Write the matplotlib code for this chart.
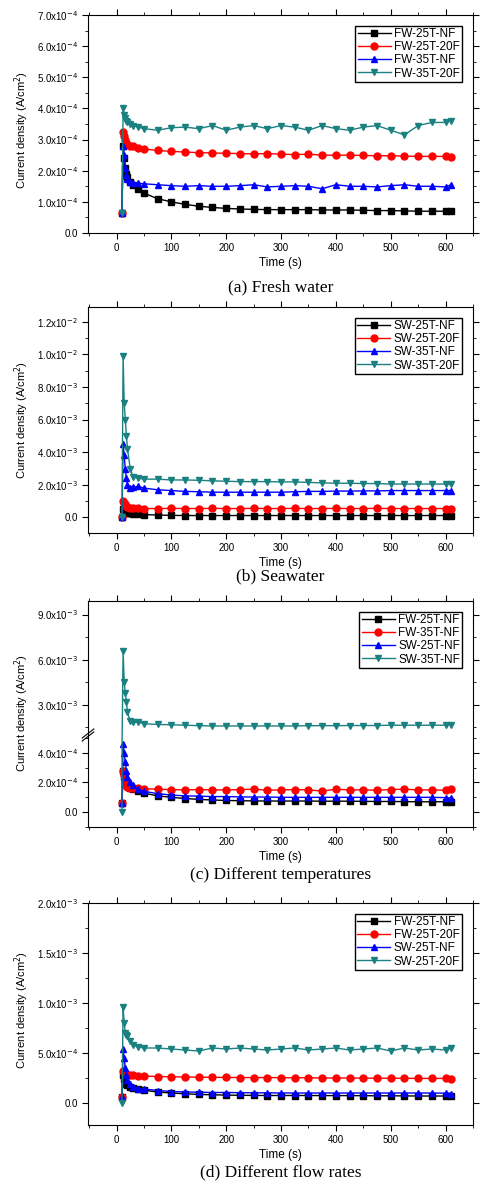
import matplotlib
matplotlib.use("Agg")
import matplotlib.pyplot as plt
import numpy as np
from matplotlib.ticker import FixedLocator, MultipleLocator

t = [10, 12, 14, 16, 18, 20, 25, 30, 40,
     50, 75, 100, 125, 150, 175, 200, 225, 250, 275, 300, 325, 350, 375, 400,
     425, 450, 475, 500, 525, 550, 575, 600, 610]

# values in units of 1e-4 A/cm2
fw25nf = [0.65, 2.8, 2.4, 2.1, 1.9, 1.8, 1.65, 1.55, 1.4,
          1.28, 1.1, 1.0, 0.92, 0.86, 0.82, 0.79, 0.77, 0.76, 0.75, 0.75, 0.75, 0.75, 0.74, 0.74,
          0.74, 0.73, 0.72, 0.72, 0.71, 0.7, 0.7, 0.7, 0.7]
fw25_20f = [0.65, 3.25, 3.1, 3.0, 2.9, 2.85, 2.8, 2.78, 2.72,
            2.7, 2.65, 2.62, 2.6, 2.58, 2.57, 2.56, 2.55, 2.54, 2.55, 2.53, 2.52, 2.53, 2.5, 2.5,
            2.5, 2.49, 2.48, 2.48, 2.47, 2.46, 2.46, 2.46, 2.45]
fw35nf = [0.65, 2.8, 2.5, 2.1, 1.85, 1.72, 1.65, 1.62, 1.6,
          1.58, 1.55, 1.52, 1.5, 1.52, 1.5, 1.5, 1.52, 1.55, 1.48, 1.5, 1.52, 1.5, 1.42, 1.55,
          1.5, 1.5, 1.48, 1.52, 1.55, 1.5, 1.5, 1.48, 1.55]
fw35_20f = [0.65, 4.0, 3.8, 3.7, 3.6, 3.55, 3.5, 3.45, 3.4,
            3.35, 3.3, 3.38, 3.4, 3.35, 3.45, 3.3, 3.4, 3.45, 3.35, 3.45, 3.4, 3.3, 3.45, 3.35,
            3.3, 3.4, 3.45, 3.3, 3.15, 3.45, 3.55, 3.55, 3.6]
# values in units of 1e-3 A/cm2
sw25nf_b = [0.0, 0.5, 0.4, 0.35, 0.3, 0.28, 0.25, 0.22, 0.2,
            0.18, 0.15, 0.13, 0.12, 0.12, 0.12, 0.12, 0.12, 0.12, 0.12, 0.12, 0.12, 0.12, 0.12, 0.12,
            0.12, 0.12, 0.12, 0.12, 0.12, 0.12, 0.12, 0.12, 0.12]
sw25_20f_b = [0.0, 1.0, 0.9, 0.8, 0.7, 0.65, 0.6, 0.58, 0.56,
              0.55, 0.55, 0.56, 0.55, 0.55, 0.56, 0.55, 0.55, 0.56, 0.55, 0.55, 0.56, 0.55, 0.55, 0.56,
              0.55, 0.55, 0.56, 0.55, 0.55, 0.55, 0.55, 0.55, 0.55]
sw35nf_b = [0.0, 4.5, 3.8, 3.0, 2.4, 2.0, 1.8, 1.85, 1.9,
            1.8, 1.7, 1.65, 1.6, 1.58, 1.55, 1.55, 1.55, 1.55, 1.55, 1.55, 1.58, 1.6, 1.6, 1.62,
            1.62, 1.63, 1.63, 1.65, 1.65, 1.65, 1.65, 1.65, 1.65]
sw35_20f_b = [0.0, 9.9, 7.0, 6.0, 5.0, 4.2, 3.0, 2.5, 2.4,
              2.35, 2.35, 2.3, 2.3, 2.28, 2.25, 2.22, 2.2, 2.2, 2.2, 2.18, 2.18, 2.15, 2.12, 2.1,
              2.1, 2.08, 2.08, 2.05, 2.05, 2.05, 2.05, 2.05, 2.05]
# panel c
sw25nf_c = [0.65, 4.6, 4.0, 3.4, 2.8, 2.4, 2.0, 1.8, 1.55,
            1.4, 1.25, 1.15, 1.1, 1.08, 1.05, 1.05, 1.03, 1.02, 1.02, 1.0, 1.0, 1.0, 1.0, 1.0,
            1.0, 1.0, 1.0, 1.0, 1.0, 1.0, 1.0, 0.98, 0.95]  # 1e-4
sw35nf_c = [0.0, 6.6, 4.5, 3.8, 3.2, 2.5, 1.9, 1.85, 1.85,
            1.75, 1.7, 1.68, 1.65, 1.62, 1.6, 1.6, 1.6, 1.6, 1.6, 1.6, 1.6, 1.62, 1.62, 1.62,
            1.63, 1.63, 1.63, 1.65, 1.65, 1.65, 1.65, 1.65, 1.68]  # 1e-3
# panel d (1e-4)
sw25nf_d = [0.65, 5.4, 4.5, 3.5, 2.8, 2.3, 1.9, 1.6, 1.45,
            1.4, 1.25, 1.15, 1.1, 1.08, 1.05, 1.05, 1.03, 1.02, 1.02, 1.0, 1.0, 1.0, 1.0, 1.0,
            1.0, 1.0, 1.0, 1.0, 1.0, 1.0, 1.0, 0.98, 0.95]
sw25_20f_d = [0.0, 9.6, 8.0, 7.0, 6.8, 6.7, 6.2, 5.8, 5.6,
              5.5, 5.5, 5.4, 5.3, 5.2, 5.5, 5.4, 5.5, 5.4, 5.3, 5.4, 5.5, 5.3, 5.4, 5.5,
              5.3, 5.4, 5.5, 5.2, 5.5, 5.3, 5.4, 5.3, 5.5]

labels_a = ["FW-25T-NF", "FW-25T-20F", "FW-35T-NF", "FW-35T-20F"]
labels_b = ["SW-25T-NF", "SW-25T-20F", "SW-35T-NF", "SW-35T-20F"]
labels_c = ["FW-25T-NF", "FW-35T-NF", "SW-25T-NF", "SW-35T-NF"]
labels_d = ["FW-25T-NF", "FW-25T-20F", "SW-25T-NF", "SW-25T-20F"]
captions = ["(a) Fresh water", "(b) Seawater", "(c) Different temperatures", "(d) Different flow rates"]

colors = ["black", "#ff0000", "#0000ff", "#1a8080"]
markers = ["s", "o", "^", "v"]

W, H = 484, 1188
fig = plt.figure(figsize=(W / 100, H / 100), dpi=100)
plt.rcParams['font.family'] = ['Liberation Sans', 'DejaVu Sans']

L, R = 88, 473


def ax_at(top, bottom):
    return fig.add_axes([L / W, 1 - bottom / H, (R - L) / W, (bottom - top) / H])


def lab(v):
    if v == 0:
        return "0.0"
    e = int(np.floor(np.log10(abs(v)) + 1e-9))
    m = v / 10 ** e
    return "%.1fx10$^{%d}$" % (m, e)


def style(ax, xt=True):
    ax.set_xlim(-52, 650)
    ax.xaxis.set_major_locator(MultipleLocator(100))
    ax.xaxis.set_minor_locator(MultipleLocator(50))
    ax.tick_params(which='both', direction='out', top=True, right=True, labelsize=7)
    ax.tick_params(which='major', length=4, width=0.8)
    ax.tick_params(which='minor', length=2, width=0.6)
    if not xt:
        ax.tick_params(axis='x', which='both', bottom=False, labelbottom=False)


def plot_series(ax, ys, scale, labels):
    hs = []
    for y, c, m, l in zip(ys, colors, markers, labels):
        h, = ax.plot(t, np.array(y) * scale, color=c, marker=m, ms=5, mec=c, lw=1, label=l)
        hs.append(h)
    return hs


def legend(ax, hs):
    ax.legend(handles=hs, loc='upper right', fontsize=8.5, fancybox=False, edgecolor='black',
              framealpha=1, handlelength=2.8, borderpad=0.2, labelspacing=0.1,
              handletextpad=0.3, borderaxespad=0.9)


def yticks(ax, ticks, minor):
    ax.yaxis.set_major_locator(FixedLocator(ticks))
    ax.set_yticklabels([lab(v) for v in ticks])
    ax.yaxis.set_minor_locator(MultipleLocator(minor))


def finish(ax, top, bottom, cap_y, ylab_center):
    fig.text(0.5 * (L + R) / W + 0.0, 1 - (bottom + 30) / H, "Time (s)", ha='center', va='center', fontsize=8.5)
    fig.text((L + R) / 2 / W, 1 - cap_y / H, captions[finish.i], ha='center', va='center',
             fontsize=12.5, family='Liberation Serif')
    fig.text(22 / W, 1 - ylab_center / H, "Current density (A/cm$^2$)", rotation=90,
             ha='center', va='center', fontsize=8)
    finish.i += 1


finish.i = 0

# (a)
ax = ax_at(15, 233)
hs = plot_series(ax, [fw25nf, fw25_20f, fw35nf, fw35_20f], 1e-4, labels_a)
ax.set_ylim(0, 7e-4)
yticks(ax, [i * 1e-4 for i in range(8)], 0.5e-4)
style(ax)
legend(ax, hs)
finish(ax, 15, 233, 287, 130)

# (b)
ax = ax_at(307, 533)
hs = plot_series(ax, [sw25nf_b, sw25_20f_b, sw35nf_b, sw35_20f_b], 1e-3, labels_b)
ax.set_ylim(-0.95e-3, 12.9e-3)
yticks(ax, [i * 2e-3 for i in range(7)], 1e-3)
style(ax)
legend(ax, hs)
finish(ax, 307, 533, 576, 420)

# (c) broken axis
axu = ax_at(601, 735)
axl = ax_at(735, 827)
ysc = [np.array(fw25nf) * 1e-4, np.array(fw35nf) * 1e-4, np.array(sw25nf_c) * 1e-4, np.array(sw35nf_c) * 1e-3]
hs = []
for y, c, m, l in zip(ysc, colors, markers, labels_c):
    for a in (axu, axl):
        h, = a.plot(t, y, color=c, marker=m, ms=5, mec=c, lw=1, label=l)
    hs.append(h)
axu.set_ylim(1.0e-3, 9.9e-3)
axl.set_ylim(-1.0e-4, 5.2e-4)
yticks(axu, [3e-3, 6e-3, 9e-3], 1.5e-3)
yticks(axl, [0, 2e-4, 4e-4], 1e-4)
style(axu, xt=False)
style(axl)
axu.spines['bottom'].set_visible(False)
axl.spines['top'].set_visible(False)
axu.tick_params(axis='x', which='both', top=True)
axl.tick_params(axis='x', which='both', top=False)
legend(axu, hs)
d = 0.012
fig.add_artist(plt.Line2D([L / W - d, L / W + d], [1 - 738 / H, 1 - 729 / H], color='k', lw=0.8))
fig.add_artist(plt.Line2D([L / W - d, L / W + d], [1 - 741 / H, 1 - 732 / H], color='k', lw=0.8))
finish(axl, 601, 827, 875, 713)

# (d)
ax = ax_at(903, 1125)
hs = plot_series(ax, [fw25nf, fw25_20f, sw25nf_d, sw25_20f_d], 1e-4, labels_d)
ax.set_ylim(-0.22e-3, 2.0e-3)
yticks(ax, [0, 0.5e-3, 1.0e-3, 1.5e-3, 2.0e-3], 0.25e-3)
style(ax)
legend(ax, hs)
finish(ax, 903, 1125, 1172, 1010)

fig.savefig("out.png", dpi=100)
